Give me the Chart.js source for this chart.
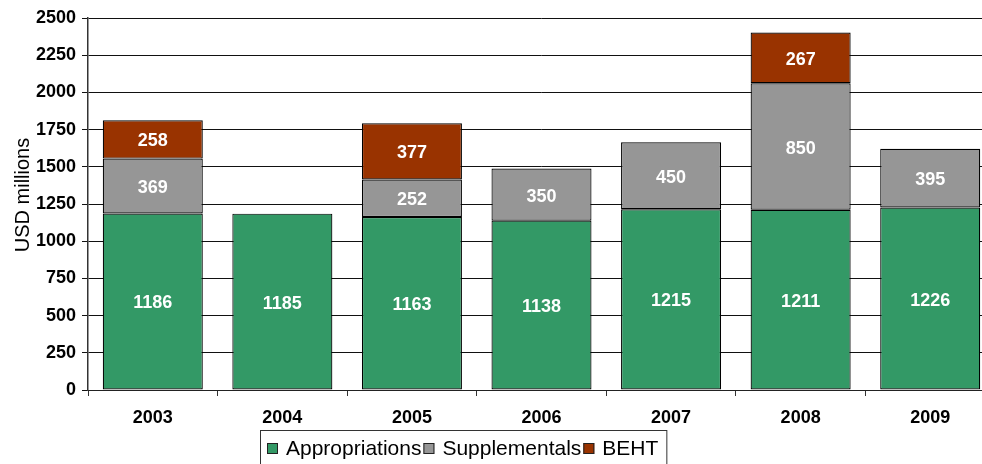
<!DOCTYPE html>
<html>
<head>
<meta charset="utf-8">
<script src="https://cdn.jsdelivr.net/npm/chart.js@4"></script>
<style>
  html, body { margin: 0; padding: 0; background: #fff; overflow: hidden; width: 982px; height: 464px; }
  #wrap { position: relative; width: 995px; height: 464px; }
</style>
</head>
<body>
<div id="wrap"><canvas id="grafico"></canvas></div>
<script>
// ==================== DATOS ====================
const years = ['2003', '2004', '2005', '2006', '2007', '2008', '2009'];
const appropriations = [1186, 1185, 1163, 1138, 1215, 1211, 1226];
const supplementals = [369, null, 252, 350, 450, 850, 395];
// la barra roja de 2008 se dibuja mas alta que su etiqueta (267)
const beht = [258, null, 377, null, null, 342, null];
const behtLabels = ['258', '', '377', '', '', '267', ''];
const yTicks = { min: 0, max: 2500, step: 250 };
const yTitle = 'USD millions';

Chart.defaults.font.family = "'Liberation Sans', Arial, sans-serif";
Chart.defaults.color = '#000';

// etiquetas blancas dentro de cada segmento
const etiquetasBarras = {
    id: 'etiquetasBarras',
    afterDatasetsDraw(chart) {
        const ctx = chart.ctx;
        ctx.save();
        ctx.fillStyle = '#fff';
        ctx.font = "bold 18px 'Liberation Sans', Arial, sans-serif";
        ctx.textAlign = 'center';
        ctx.textBaseline = 'middle';
        chart.data.datasets.forEach((ds, i) => {
            chart.getDatasetMeta(i).data.forEach((bar, j) => {
                if (ds.data[j] == null) return;
                const txt = ds.etiquetas ? ds.etiquetas[j] : String(ds.data[j]);
                ctx.fillText(txt, bar.x, (bar.y + bar.base) / 2 + 2);
            });
        });
        ctx.restore();
    }
};

// leyenda con marco y titulo del eje, como en la figura original
const leyendaMarco = {
    id: 'leyendaMarco',
    afterDraw(chart) {
        const ctx = chart.ctx;
        ctx.save();
        ctx.font = "21px 'Liberation Sans', Arial, sans-serif";
        ctx.textBaseline = 'middle';
        let x = 267;
        const yc = 448;
        chart.data.datasets.forEach(ds => {
            ctx.fillStyle = ds.backgroundColor;
            ctx.fillRect(x, yc - 5, 11, 11);
            ctx.strokeStyle = '#222';
            ctx.lineWidth = 1;
            ctx.strokeRect(x + 0.5, yc - 4.5, 10, 10);
            ctx.fillStyle = '#000';
            ctx.fillText(ds.label, x + 19, yc + 1);
            x += 19 + ctx.measureText(ds.label).width + 2;
        });
        ctx.strokeStyle = '#333';
        ctx.strokeRect(260.5, 430.5, x + 6 - 260, 60);

        // titulo del eje Y
        ctx.translate(23, 195);
        ctx.rotate(-Math.PI / 2);
        ctx.font = "20px 'Liberation Sans', Arial, sans-serif";
        ctx.textAlign = 'center';
        ctx.fillText(yTitle, 0, 0);
        ctx.restore();
    }
};

new Chart(document.getElementById('grafico'), {
    type: 'bar',
    data: {
        labels: years,
        datasets: [
            { label: 'Appropriations', data: appropriations, backgroundColor: '#339966' },
            { label: 'Supplementals', data: supplementals, backgroundColor: '#969696' },
            { label: 'BEHT', data: beht, etiquetas: behtLabels, backgroundColor: '#993300' }
        ]
    },
    options: {
        responsive: true,
        maintainAspectRatio: false,
        animation: false,
        layout: { padding: { top: 18, right: 0, bottom: 34, left: 0 } },
        datasets: {
            bar: {
                borderColor: '#000',
                borderWidth: 1.2,
                borderSkipped: false,
                barPercentage: 0.772,
                categoryPercentage: 1
            }
        },
        plugins: {
            legend: { display: false },
            tooltip: { enabled: false }
        },
        scales: {
            x: {
                stacked: true,
                afterFit(scale) { scale.height = 40; },
                grid: { drawOnChartArea: false, drawTicks: true, tickLength: 6, color: '#333' },
                border: { color: '#222', width: 1 },
                ticks: { font: { size: 18, weight: 'bold' }, padding: 11 }
            },
            y: {
                stacked: true,
                min: yTicks.min,
                max: yTicks.max,
                afterFit(scale) { scale.width = 88; },
                ticks: {
                    stepSize: yTicks.step,
                    font: { size: 18, weight: 'bold' },
                    padding: 6,
                    callback: v => String(v)
                },
                grid: { color: '#111', lineWidth: 1, tickLength: 6 },
                border: { color: '#333', width: 1.5 }
            }
        }
    },
    plugins: [etiquetasBarras, leyendaMarco]
});
</script>
</body>
</html>
